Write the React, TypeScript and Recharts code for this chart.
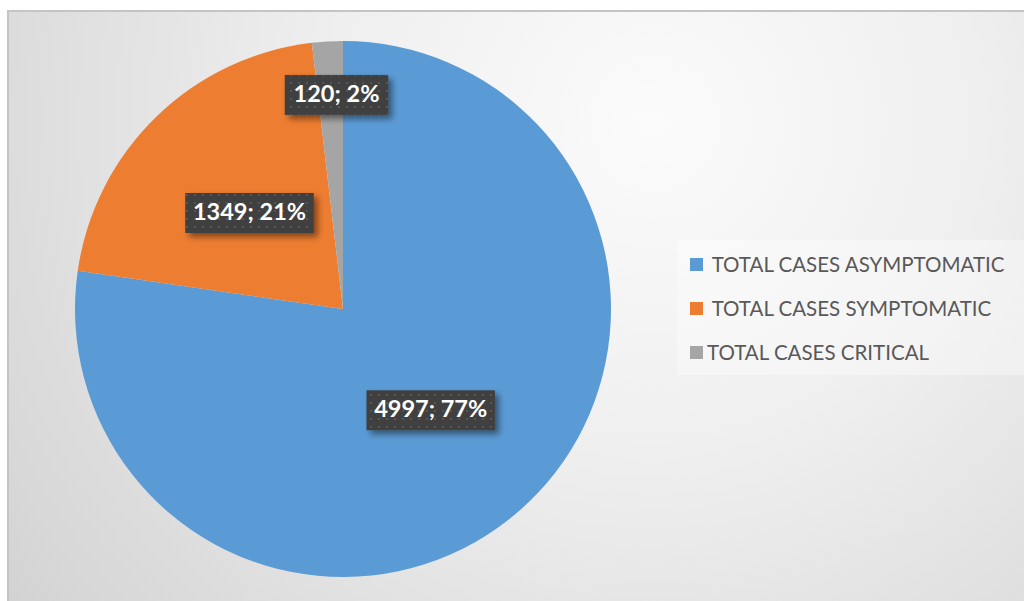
import { PieChart, Pie, Cell, Legend } from "recharts";

const categories = [
  " TOTAL CASES ASYMPTOMATIC",
  " TOTAL CASES SYMPTOMATIC",
  "TOTAL CASES CRITICAL",
];
const cases = [4997, 1349, 120];
const colors = ["#5b9bd5", "#ed7d31", "#a5a5a5"];

const chartData = categories.map((name, i) => ({ name, value: cases[i] }));
const total = cases.reduce((a, b) => a + b, 0);

const RADIAN = Math.PI / 180;

const renderLabel = (props: any) => {
  const { cx, cy, midAngle, outerRadius, value } = props;
  const pct = Math.round((value / total) * 100);
  // tiny slices get pushed out like Excel's best-fit
  const k = pct < 5 ? 0.8 : 0.5;
  const x = cx + outerRadius * k * Math.cos(-midAngle * RADIAN) + (pct < 5 ? 6 : 0);
  const y = cy + outerRadius * k * Math.sin(-midAngle * RADIAN);
  const text = `${value}; ${pct}%`;
  const w = text.length * 12.5 + 16;
  const h = 40;
  return (
    <g>
      <rect
        x={x - w / 2}
        y={y - h / 2}
        width={w}
        height={h}
        fill="#404040"
        filter="url(#lblShadow)"
      />
      <rect x={x - w / 2} y={y - h / 2} width={w} height={h} fill="url(#dots)" />
      <text
        x={x}
        y={y + 1}
        textAnchor="middle"
        dominantBaseline="middle"
        fill="#ffffff"
        fontFamily="Lato, sans-serif"
        fontWeight={700}
        fontSize={23.5}
      >
        {text}
      </text>
    </g>
  );
};

const renderLegend = () => (
  <div
    style={{
      background: "rgba(255,255,255,0.35)",
      width: 347,
      height: 135,
      paddingTop: 2,
      boxSizing: "border-box",
      fontFamily: "Lato, sans-serif",
      fontSize: 20.5,
      color: "#595959",
    }}
  >
    {chartData.map((d, i) => (
      <div
        key={d.name}
        style={{
          display: "flex",
          alignItems: "center",
          height: 44,
          paddingLeft: 13,
        }}
      >
        <span
          style={{
            display: "inline-block",
            width: 13,
            height: 13,
            background: colors[i],
            marginRight: 4,
          }}
        />
        <span style={{ whiteSpace: "pre" }}>{d.name}</span>
      </div>
    ))}
  </div>
);

export default function App() {
  return (
    <div
      style={{
        position: "absolute",
        left: 0,
        top: 0,
        width: 1024,
        height: 601,
        overflow: "hidden",
        background: "#ffffff",
      }}
    >
      <div
        style={{
          position: "absolute",
          left: 7,
          top: 10,
          width: 1040,
          height: 620,
          border: "2px solid #c4c4c4",
          background:
            "radial-gradient(circle at 62% 18%, #fbfbfb 0%, #efefef 40%, #dedede 75%, #d2d2d2 100%)",
        }}
      />
      <PieChart
        width={1024}
        height={601}
        margin={{ top: 0, right: 0, bottom: 0, left: 0 }}
        style={{ position: "absolute", left: 0, top: 0 }}
      >
        <defs>
          <pattern id="dots" width="8" height="8" patternUnits="userSpaceOnUse">
            <rect x="2" y="2" width="2" height="2" fill="#555555" />
          </pattern>
          <filter id="lblShadow" x="-20%" y="-30%" width="150%" height="180%">
            <feDropShadow dx="4" dy="4" stdDeviation="3" floodColor="#000" floodOpacity="0.45" />
          </filter>
        </defs>
        <Pie
          data={chartData}
          dataKey="value"
          nameKey="name"
          cx={343}
          cy={309}
          outerRadius={268}
          startAngle={90}
          endAngle={-270}
          stroke="none"
          labelLine={false}
          label={renderLabel}
          isAnimationActive={false}
        >
          {chartData.map((d, i) => (
            <Cell key={d.name} fill={colors[i]} />
          ))}
        </Pie>
        <Legend
          content={renderLegend}
          wrapperStyle={{ left: 677, top: 240, width: 347, height: 135 }}
        />
      </PieChart>
    </div>
  );
}
